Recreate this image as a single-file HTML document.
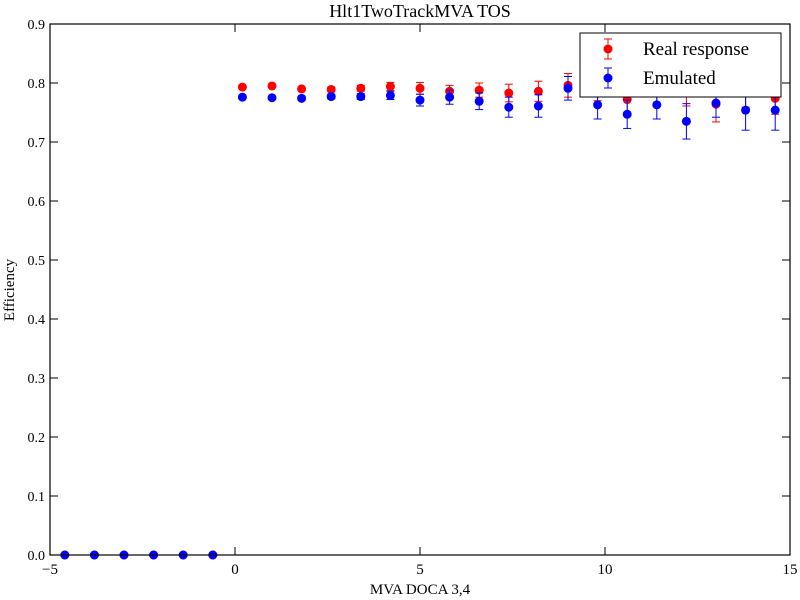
<!DOCTYPE html>
<html><head><meta charset="utf-8"><style>
body{margin:0;background:#fff}
svg{display:block;font-family:"Liberation Serif",serif}
</style></head><body>
<svg id="chart" width="800" height="600">
<rect width="800" height="600" fill="#fff"/>
<text x="420" y="17" font-size="18" text-anchor="middle">Hlt1TwoTrackMVA TOS</text>
<text x="420" y="594" font-size="15" text-anchor="middle">MVA DOCA 3,4</text>
<text x="14" y="290" font-size="15" text-anchor="middle" transform="rotate(-90 14 290)">Efficiency</text>
<g id="ticks"></g>
<g id="marks"></g>
<rect x="50" y="24" width="740" height="531" fill="none" stroke="#000" stroke-width="1.2"/>
<g>
<rect x="580" y="33" width="201" height="64" fill="#fff" stroke="#000" stroke-width="1"/>
<g>
<line x1="608" y1="39" x2="608" y2="59" stroke="#f00"/><line x1="604" y1="39" x2="612" y2="39" stroke="#f00"/><line x1="604" y1="59" x2="612" y2="59" stroke="#f00"/>
<circle cx="608" cy="49" r="4.5" fill="#f00"/>
<text x="643" y="55" font-size="19">Real response</text></g>
<g>
<line x1="608" y1="68" x2="608" y2="88" stroke="#00f"/><line x1="604" y1="68" x2="612" y2="68" stroke="#00f"/><line x1="604" y1="88" x2="612" y2="88" stroke="#00f"/>
<circle cx="608" cy="78" r="4.5" fill="#00f"/>
<text x="643" y="84" font-size="19">Emulated</text></g>
</g>
</svg>
<script>
const xCenters=[-4.6,-3.8,-3.0,-2.2,-1.4,-0.6,0.2,1.0,1.8,2.6,3.4,4.2,5.0,5.8,6.6,7.4,8.2,9.0,9.8,10.6,11.4,12.2,13.0,13.8,14.6];
const realEff=[0,0,0,0,0,0,0.793,0.795,0.790,0.789,0.791,0.794,0.791,0.786,0.788,0.783,0.786,0.796,0.790,0.772,0.786,0.785,0.764,0.786,0.774];
const realErr=[0,0,0,0,0,0,0.002,0.002,0.003,0.004,0.005,0.007,0.010,0.010,0.012,0.015,0.017,0.020,0.020,0.024,0.024,0.024,0.030,0.027,0.027];
const emuEff=[0,0,0,0,0,0,0.776,0.775,0.774,0.777,0.777,0.779,0.771,0.776,0.769,0.759,0.761,0.791,0.763,0.747,0.763,0.735,0.766,0.754,0.754];
const emuErr=[0,0,0,0,0,0,0.002,0.002,0.003,0.004,0.005,0.007,0.010,0.012,0.014,0.017,0.019,0.020,0.024,0.024,0.024,0.030,0.024,0.034,0.034];
const xTicks=[-5,0,5,10,15];
const xTickLabels=["\u22125","0","5","10","15"];
const yTicks=[0,0.1,0.2,0.3,0.4,0.5,0.6,0.7,0.8,0.9];
const yTickLabels=["0.0","0.1","0.2","0.3","0.4","0.5","0.6","0.7","0.8","0.9"];
const NS="http://www.w3.org/2000/svg";
const X=v=>50+(v+5)*37, Y=v=>555-v*590;
function mk(tag,attrs,parent){const e=document.createElementNS(NS,tag);for(const k in attrs)e.setAttribute(k,attrs[k]);parent.appendChild(e);return e;}
const tg=document.getElementById('ticks');
xTicks.forEach((t,i)=>{
 const g=mk('g',{},tg);
 
 
 mk('line',{x1:X(t),x2:X(t),y1:555,y2:547,stroke:'#000'},g);
 mk('line',{x1:X(t),x2:X(t),y1:24,y2:32,stroke:'#000'},g);
 const tx=mk('text',{x:X(t),y:574,'font-size':15,'text-anchor':'middle'},g);tx.textContent=xTickLabels[i];
});
yTicks.forEach((t,i)=>{
 const g=mk('g',{},tg);
 
 
 mk('line',{x1:50,x2:58,y1:Y(t),y2:Y(t),stroke:'#000'},g);
 mk('line',{x1:790,x2:782,y1:Y(t),y2:Y(t),stroke:'#000'},g);
 const tx=mk('text',{x:45,y:Y(t)+5,'font-size':14,'text-anchor':'end'},g);tx.textContent=yTickLabels[i];
});
const mg=document.getElementById('marks');
function series(vals,errs,col,name){
 const sg=mk('g',{},mg);
 
 
 xCenters.forEach((x,i)=>{
  const cx=X(x),cy=Y(vals[i]),e=errs[i];
  const g=mk('g',{},sg);
  
  
  if(e>0){
   mk('line',{x1:cx,x2:cx,y1:Y(vals[i]+e),y2:Y(vals[i]-e),stroke:col},g);
   mk('line',{x1:cx-4,x2:cx+4,y1:Y(vals[i]+e),y2:Y(vals[i]+e),stroke:col},g);
   mk('line',{x1:cx-4,x2:cx+4,y1:Y(vals[i]-e),y2:Y(vals[i]-e),stroke:col},g);
  }
  mk('circle',{cx:cx,cy:cy,r:4.5,fill:col},g);
 });
}
series(realEff,realErr,'#f00','series-real-response');
series(emuEff,emuErr,'#00f','series-emulated');
</script>
</body></html>
